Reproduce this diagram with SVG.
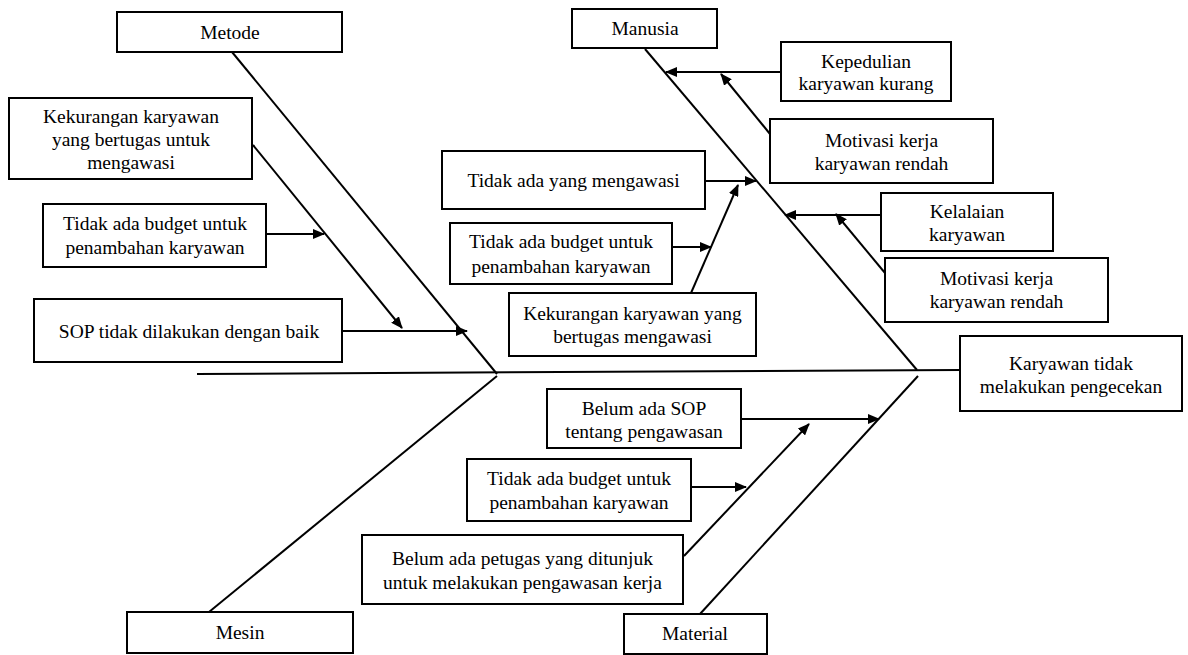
<svg xmlns="http://www.w3.org/2000/svg" width="1188" height="655" viewBox="0 0 1188 655">
<style>
.box{fill:#fff;stroke:#000;stroke-width:2}
.t{font-family:"Liberation Serif","Times New Roman",serif;font-size:19.5px;fill:#000;text-anchor:middle}
.ln{stroke:#000;stroke-width:2;fill:none}
.ar{stroke:#000;stroke-width:2;fill:none;marker-end:url(#ah)}
</style>
<defs>
<marker id="ah" markerUnits="userSpaceOnUse" markerWidth="12" markerHeight="10" refX="11" refY="5" orient="auto">
<path d="M0,0 L12,5 L0,10 Z" fill="#000"/>
</marker>
</defs>
<rect width="1188" height="655" fill="#fff"/>
<g id="connectors">
<line class="ln" x1="197" y1="374" x2="960" y2="370"/>
<line class="ln" x1="232" y1="52" x2="497" y2="374"/>
<line class="ln" x1="645" y1="49" x2="917" y2="370"/>
<line class="ln" x1="497" y1="376" x2="209" y2="612"/>
<line class="ln" x1="918" y1="376" x2="700" y2="614"/>
<line class="ar" x1="253" y1="145" x2="402" y2="328"/>
<line class="ar" x1="266" y1="234" x2="324" y2="234"/>
<line class="ar" x1="342" y1="331" x2="467" y2="331"/>
<line class="ar" x1="705" y1="181" x2="756" y2="181"/>
<line class="ar" x1="672" y1="247" x2="711" y2="247"/>
<line class="ar" x1="691" y1="293" x2="738" y2="185"/>
<line class="ar" x1="781" y1="72" x2="666" y2="72"/>
<line class="ar" x1="770" y1="134" x2="721" y2="74"/>
<line class="ar" x1="881" y1="215" x2="785" y2="215"/>
<line class="ar" x1="885" y1="273" x2="836" y2="214"/>
<line class="ar" x1="741" y1="419" x2="879" y2="419"/>
<line class="ar" x1="691" y1="487" x2="746" y2="487"/>
<line class="ar" x1="684" y1="556" x2="809" y2="424"/>
</g>
<g id="metode"><rect class="box" x="117" y="12" width="225" height="40"/><text class="t" x="230" y="39">Metode</text></g>
<g id="manusia"><rect class="box" x="572" y="9" width="145" height="39"/><text class="t" x="645" y="35">Manusia</text></g>
<g id="mesin"><rect class="box" x="127" y="612" width="226" height="41"/><text class="t" x="240" y="639">Mesin</text></g>
<g id="material"><rect class="box" x="624" y="614" width="143" height="40"/><text class="t" x="695" y="640">Material</text></g>
<g id="effect"><rect class="box" x="960" y="336" width="222" height="75"/><text class="t" x="1071" y="370">Karyawan tidak</text><text class="t" x="1071" y="393">melakukan pengecekan</text></g>
<g id="m1"><rect class="box" x="9" y="98" width="243" height="81"/><text class="t" x="131" y="122.5">Kekurangan karyawan</text><text class="t" x="131" y="146">yang bertugas untuk</text><text class="t" x="131" y="168.5">mengawasi</text></g>
<g id="m2"><rect class="box" x="43" y="204" width="223" height="63"/><text class="t" x="155" y="230">Tidak ada budget untuk</text><text class="t" x="155" y="254">penambahan karyawan</text></g>
<g id="m3"><rect class="box" x="34" y="299" width="308" height="63"/><text class="t" x="189" y="337.5">SOP tidak dilakukan dengan baik</text></g>
<g id="h1"><rect class="box" x="442" y="151" width="263" height="58"/><text class="t" x="573.5" y="186.5">Tidak ada yang mengawasi</text></g>
<g id="h2"><rect class="box" x="450" y="223" width="222" height="61"/><text class="t" x="561" y="248">Tidak ada budget untuk</text><text class="t" x="561" y="272.5">penambahan karyawan</text></g>
<g id="h3"><rect class="box" x="509" y="293" width="247" height="63"/><text class="t" x="632.5" y="320">Kekurangan karyawan yang</text><text class="t" x="632.5" y="343">bertugas mengawasi</text></g>
<g id="h4"><rect class="box" x="781" y="42" width="170" height="59"/><text class="t" x="866" y="67.5">Kepedulian</text><text class="t" x="866" y="90">karyawan kurang</text></g>
<g id="h5"><rect class="box" x="770" y="119" width="223" height="64"/><text class="t" x="881.5" y="146.5">Motivasi kerja</text><text class="t" x="881.5" y="170">karyawan rendah</text></g>
<g id="h6"><rect class="box" x="881" y="193" width="172" height="58"/><text class="t" x="967" y="218">Kelalaian</text><text class="t" x="967" y="240.5">karyawan</text></g>
<g id="h7"><rect class="box" x="885" y="258" width="223" height="64"/><text class="t" x="996.5" y="285">Motivasi kerja</text><text class="t" x="996.5" y="308">karyawan rendah</text></g>
<g id="b1"><rect class="box" x="547" y="389" width="194" height="59"/><text class="t" x="644" y="415">Belum ada SOP</text><text class="t" x="644" y="438">tentang pengawasan</text></g>
<g id="b2"><rect class="box" x="467" y="459" width="224" height="62"/><text class="t" x="579" y="485">Tidak ada budget untuk</text><text class="t" x="579" y="509">penambahan karyawan</text></g>
<g id="b3"><rect class="box" x="362" y="535" width="321" height="69"/><text class="t" x="522.5" y="565">Belum ada petugas yang ditunjuk</text><text class="t" x="522.5" y="589">untuk melakukan pengawasan kerja</text></g>
</svg>
